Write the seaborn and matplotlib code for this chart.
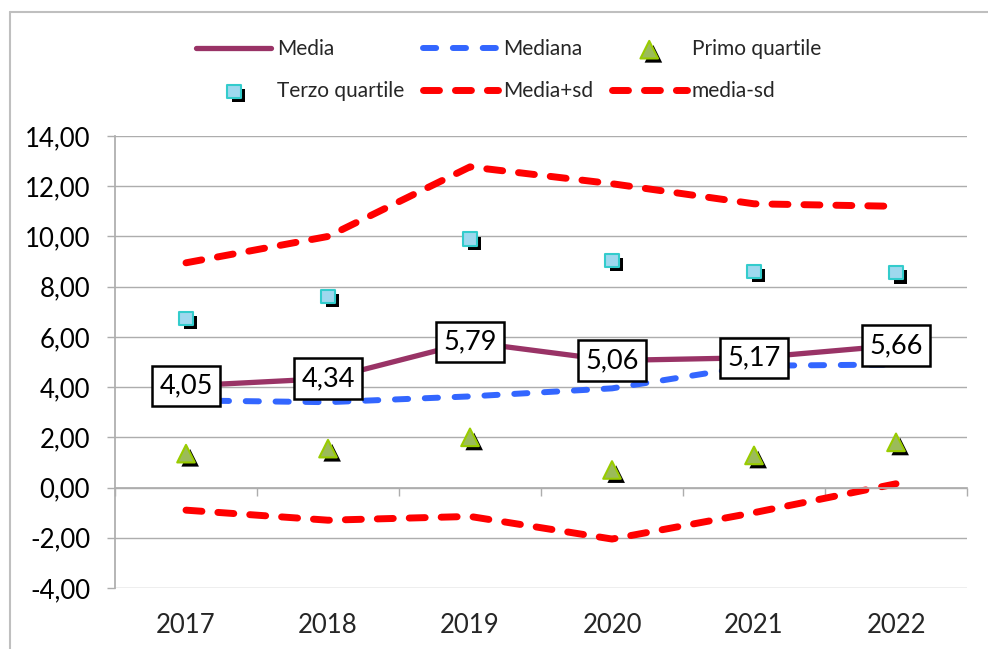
import numpy as np
import pandas as pd
import seaborn as sns
import matplotlib.pyplot as plt
import matplotlib.patheffects as pe
from matplotlib.lines import Line2D
from matplotlib.ticker import FuncFormatter

# Dati
anni = ['2017', '2018', '2019', '2020', '2021', '2022']
media = [4.05, 4.34, 5.79, 5.06, 5.17, 5.66]
mediana = [3.47, 3.40, 3.63, 3.95, 4.85, 4.90]
primo_quartile = [1.35, 1.55, 2.00, 0.70, 1.28, 1.80]
terzo_quartile = [6.74, 7.60, 9.90, 9.05, 8.60, 8.55]
media_piu_sd = [8.95, 10.00, 12.77, 12.10, 11.30, 11.20]
media_meno_sd = [-0.90, -1.30, -1.15, -2.05, -1.00, 0.15]

df = pd.DataFrame({
    'pos': np.arange(len(anni)),
    'Media': media,
    'Mediana': mediana,
    'Primo quartile': primo_quartile,
    'Terzo quartile': terzo_quartile,
    'Media+sd': media_piu_sd,
    'media-sd': media_meno_sd,
})

sns.set_theme(style='white')
plt.rcParams['font.family'] = ['Lato', 'DejaVu Sans']

GRIGIO = '#ADADAD'
ombra = [pe.SimplePatchShadow(offset=(3, -3), shadow_rgbFace='black', alpha=1.0), pe.Normal()]

fig = plt.figure(figsize=(9.88, 6.49), dpi=100)
ax = fig.add_axes([115 / 988, 61 / 649, 852 / 988, 452 / 649])

# Serie a linee
sns.lineplot(data=df, x='pos', y='Media', ax=ax, color='#993366', lw=3.8,
             solid_capstyle='round', label='Media', zorder=3)
sns.lineplot(data=df, x='pos', y='Mediana', ax=ax, color='#3366FF', lw=4.3,
             dashes=False, label='Mediana', zorder=2)
sns.lineplot(data=df, x='pos', y='Media+sd', ax=ax, color='#FF0000', lw=5.0,
             label='Media+sd', zorder=2)
sns.lineplot(data=df, x='pos', y='media-sd', ax=ax, color='#FF0000', lw=5.0,
             label='media-sd', zorder=2)
lines = ax.get_lines()
lines[1].set_dashes((2.2, 2.8))
lines[1].set_dash_capstyle('round')
for ln in lines[2:4]:
    ln.set_dashes((2.3, 2.3))
    ln.set_dash_capstyle('round')

# Quartili come marcatori
sns.scatterplot(data=df, x='pos', y='Primo quartile', ax=ax, marker='^', s=160,
                color='#9BBB59', edgecolor='#99CC00', linewidth=1.5,
                label='Primo quartile', zorder=4, path_effects=ombra)
sns.scatterplot(data=df, x='pos', y='Terzo quartile', ax=ax, marker='s', s=90,
                color='#9ED8EE', edgecolor='#33CCCC', linewidth=1.5,
                label='Terzo quartile', zorder=4, path_effects=ombra)

# Etichette della media
for x, v in zip(df['pos'], df['Media']):
    ax.text(x, v, f'{v:.2f}'.replace('.', ','), ha='center', va='center',
            fontsize=19.5, color='black', zorder=6,
            bbox=dict(boxstyle='square,pad=0.28', fc='white', ec='black', lw=1.8))

# Assi
ax.set_xlim(-0.5, len(anni) - 0.5)
ax.set_ylim(-4, 14)
ax.set_yticks(np.arange(-4, 15, 2))
ax.yaxis.set_major_formatter(FuncFormatter(lambda v, p: f'{v:.2f}'.replace('.', ',')))
ax.tick_params(axis='y', labelsize=18.5, length=6, width=1, color=GRIGIO,
               pad=12, left=True, labelcolor='black')
ax.grid(axis='y', color=GRIGIO, lw=1)
ax.set_xlabel('')
ax.set_ylabel('')
for s in ['top', 'right']:
    ax.spines[s].set_visible(False)
ax.spines['left'].set_color(GRIGIO)
ax.spines['bottom'].set_position(('data', 0))
ax.spines['bottom'].set_color(GRIGIO)
ax.set_xticks(np.arange(-0.5, len(anni), 1.0))
ax.set_xticklabels([])
ax.tick_params(axis='x', bottom=True, length=6, width=1, color=GRIGIO)

sec = ax.secondary_xaxis('bottom')
sec.set_xticks(df['pos'], anni)
sec.tick_params(length=0, labelsize=18.5, pad=18)
sec.spines['bottom'].set_visible(False)

# Legenda in ordine per righe
h, l = ax.get_legend_handles_labels()
d = dict(zip(l, h))
ordine = ['Media', 'Terzo quartile', 'Mediana', 'Media+sd', 'Primo quartile', 'media-sd']
ax.legend([d[k] for k in ordine], ordine, ncol=3, frameon=False, fontsize=15,
          loc='center', bbox_to_anchor=(0.515, 0.892), bbox_transform=fig.transFigure,
          handlelength=3.6, handletextpad=0.25, columnspacing=0.9, labelspacing=1.05)

# Cornice esterna del grafico
fig.add_artist(Line2D([10 / 988, 10 / 988], [1 - 12 / 649, 0], color='#BFBFBF', lw=1.5))
fig.add_artist(Line2D([10 / 988, 1], [1 - 12 / 649, 1 - 12 / 649], color='#BFBFBF', lw=1.5))

fig.savefig('out.png', dpi=100)
